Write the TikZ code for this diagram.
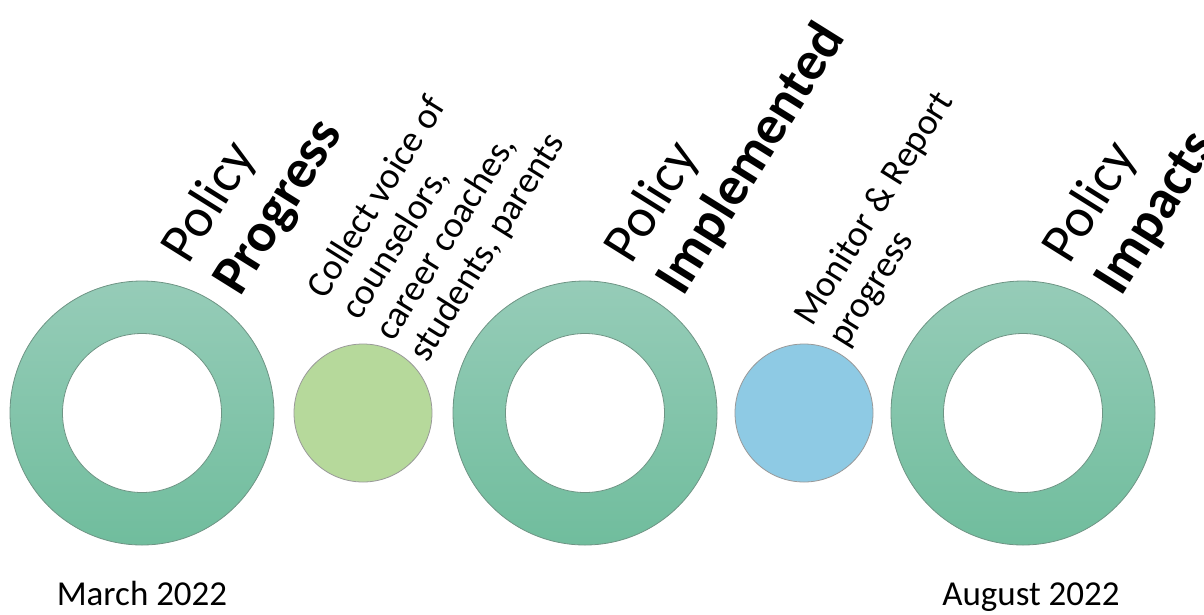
\documentclass[tikz,border=0pt]{standalone}
\usepackage{fontspec}
\setmainfont{Carlito}
\usepackage{xcolor}
\usepackage{tikz}
\usetikzlibrary{shapes}
\definecolor{ringtop}{HTML}{96CCB8}
\definecolor{ringbot}{HTML}{70BD9D}
\definecolor{ringline}{HTML}{6E9484}
\definecolor{stepgreen}{HTML}{B6D99B}
\definecolor{stepblue}{HTML}{8ECAE4}
\tikzstyle{ring}=[circle,draw=ringline,thick,top color=ringtop,bottom color=ringbot,minimum size=264pt,inner sep=0pt]
\tikzstyle{hole}=[circle,draw=ringline,thick,fill=white,minimum size=159pt,inner sep=0pt]
\tikzstyle{dot}=[circle,draw=gray!80,thick,minimum size=138pt,inner sep=0pt]
\tikzstyle{title}=[rotate=58,anchor=base west,align=left,inner sep=0pt,font=\fontsize{55}{61}\selectfont]
\tikzstyle{note}=[rotate=58,anchor=base west,align=left,inner sep=0pt,font=\fontsize{37}{40}\selectfont]
\tikzstyle{date}=[anchor=base,inner sep=0pt,font=\fontsize{35}{42}\selectfont]
\begin{document}
\begin{tikzpicture}[x=1pt,y=-1pt]
        \useasboundingbox (0,0) rectangle (1204,614);

        \node at (142,413)  [ring]             (ring1) {};
        \node at (ring1)    [hole]             (hole1) {};
        \node at (363,413)  [dot,fill=stepgreen] (dot1) {};
        \node at (585,413)  [ring]             (ring2) {};
        \node at (ring2)    [hole]             (hole2) {};
        \node at (804,413)  [dot,fill=stepblue]  (dot2) {};
        \node at (1023,413) [ring]             (ring3) {};
        \node at (ring3)    [hole]             (hole3) {};

        % anchors sit on the start of the last line
        \node at (240,298)  [title] (title1) {Policy\\\textbf{Progress}};
        \node at (427,364)  [note]  (note1)  {Collect voice of\\counselors,\\career coaches,\\students, parents};
        \node at (683,298)  [title] (title2) {Policy\\\textbf{Implemented}};
        \node at (846,349)  [note]  (note2)  {Monitor \& Report\\progress};
        \node at (1121,298) [title] (title3) {Policy\\\textbf{Impacts}};

        \node at (142,605)  [date]  (start) {March 2022};
        \node at (1031,605) [date]  (end)   {August 2022};
      \end{tikzpicture}
\end{document}
